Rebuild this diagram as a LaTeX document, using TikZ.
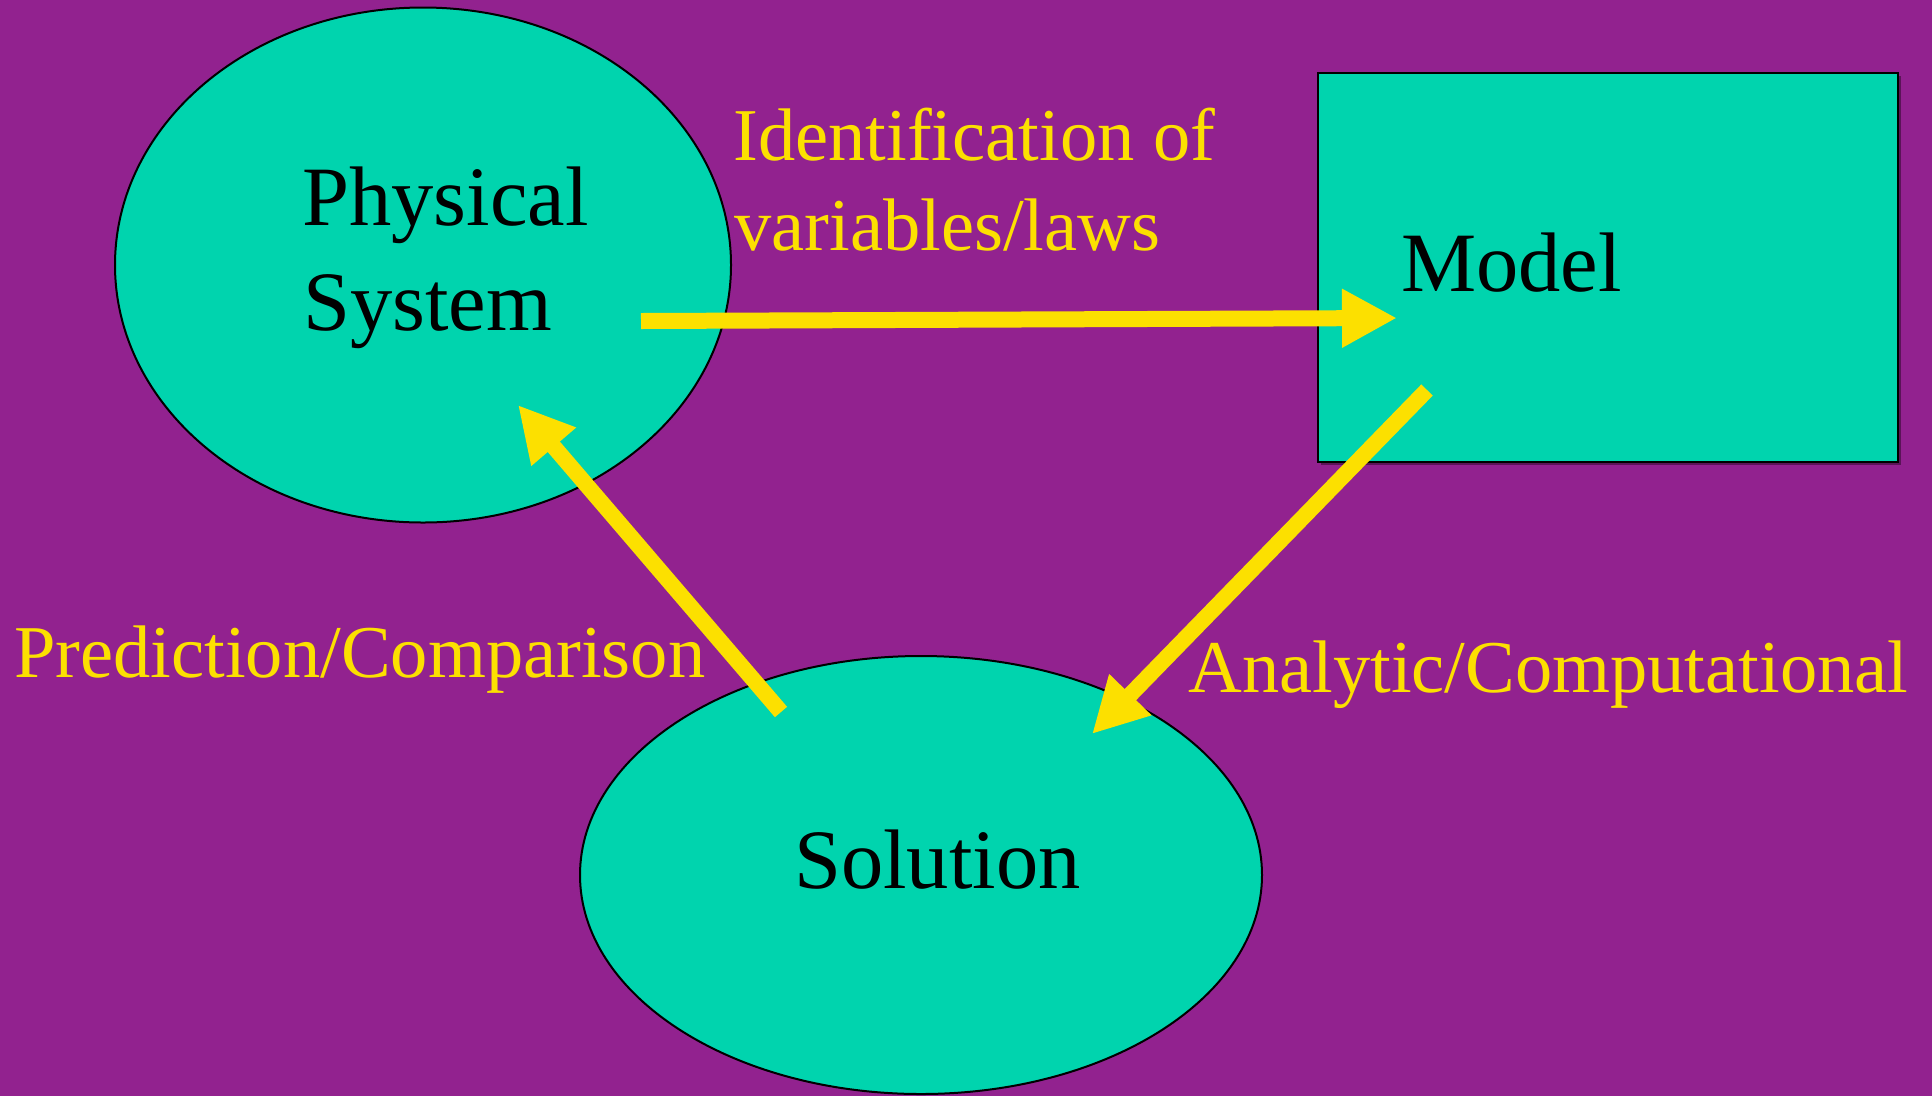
\documentclass[tikz,border=0pt]{standalone}
\usepackage{fontspec}
\setmainfont{Liberation Serif}
\usetikzlibrary{arrows.meta,shapes.geometric}
\definecolor{bgpurple}{RGB}{146,34,143}
\definecolor{shapeteal}{RGB}{0,212,174}
\definecolor{arrowyellow}{RGB}{252,224,0}
\definecolor{shadowpurple}{RGB}{90,20,88}
\tikzset{
  blob/.style={ellipse, draw=black, line width=2pt, fill=shapeteal, inner sep=0pt, outer sep=0pt},
  boxshape/.style={rectangle, draw=black, line width=2pt, fill=shapeteal, inner sep=0pt, outer sep=0pt},
  bigtext/.style={inner sep=0pt, anchor=base west, text=black, font=\fontsize{84.5}{104}\selectfont},
  labeltext/.style={inner sep=0pt, anchor=base west, text=arrowyellow, font=\fontsize{74.5}{90}\selectfont},
  flowarrow/.style={draw=arrowyellow, line width=16pt, -{Triangle[length=55pt, width=55pt]}, line cap=butt}
}
\begin{document}
\begin{tikzpicture}[x=1pt, y=-1pt]
  \useasboundingbox (0,0) rectangle (1932,1096);
  \fill[bgpurple] (0,0) rectangle (1932,1096);

  % shapes
  \node[blob, minimum width=616pt, minimum height=515pt] (phys) at (423,265) {};
  \fill[shadowpurple] (1321,76) rectangle (1901,465);
  \node[boxshape, minimum width=580pt, minimum height=389pt] (model) at (1608,267.5) {};
  \node[blob, minimum width=682pt, minimum height=438pt] (sol) at (921,875) {};

  % texts
  \node[bigtext] (physA) at (302,225) {Physical};
  \node[bigtext] (physB) at (303,330) {System};
  \node[bigtext] (modeltxt) at (1401,291) {Model};
  \node[bigtext] (soltxt) at (794,888) {Solution};

  \node[labeltext] (identA) at (733,160) {Identification of};
  \node[labeltext] (identB) at (734,250) {variables/laws};
  \node[labeltext] (predlbl) at (14,677) {Prediction/Comparison};
  \node[labeltext] (analbl) at (1188,692) {Analytic/Computational};

  % arrow end points
  \coordinate (a1s) at (641,321);
  \coordinate (a1e) at (1397,318);
  \coordinate (a2s) at (1427,390);
  \coordinate (a2e) at (1092,734);
  \coordinate (a3s) at (781,712);
  \coordinate (a3e) at (518,405);

  \draw[flowarrow] (a1s) -- (a1e);
  \draw[flowarrow] (a2s) -- (a2e);
  \draw[flowarrow] (a3s) -- (a3e);
\end{tikzpicture}
\end{document}
